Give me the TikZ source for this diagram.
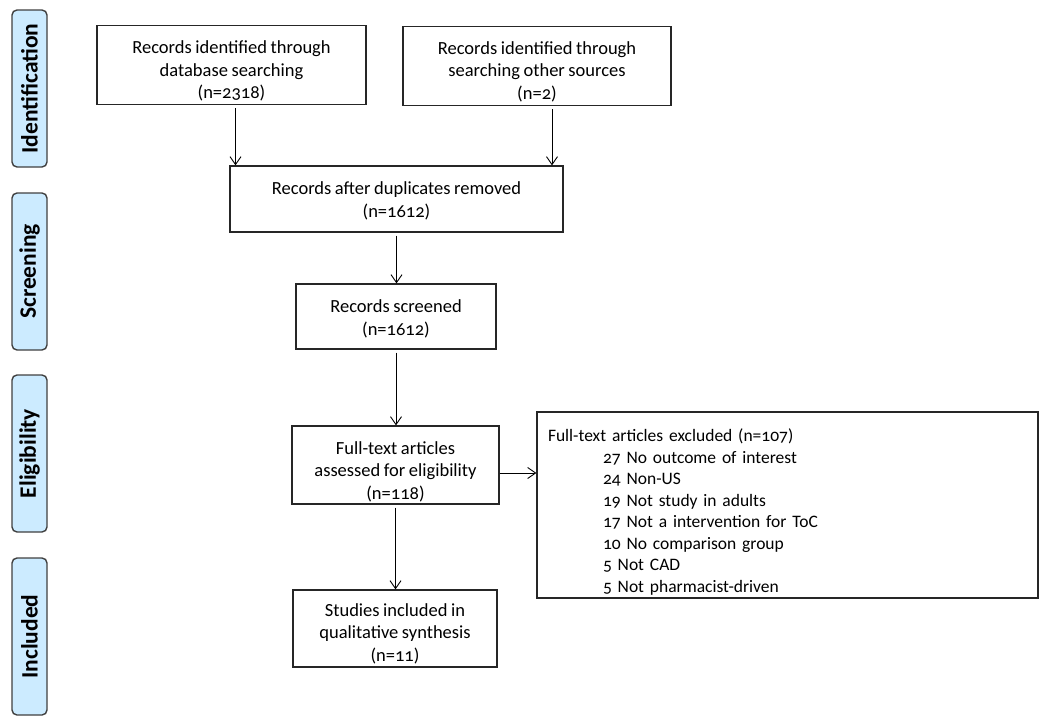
\documentclass[tikz,border=0pt]{standalone}
\usepackage{fontspec}
\setmainfont{Carlito}[Numbers=OldStyle, WordSpace=0.85]
\usetikzlibrary{arrows.meta}
\definecolor{sidefill}{HTML}{CCEBFF}
\definecolor{sideline}{HTML}{404040}
\begin{document}
\begin{tikzpicture}[x=1pt,y=-1pt,
  box/.style={draw=black!85, line width=1.2pt, inner sep=0pt, align=center,
    font=\fontsize{18.5}{22.5}\selectfont},
  side/.style={draw=sideline, fill=sidefill, line width=1.4pt, rounded corners=5pt,
    rotate=90, minimum width=157pt, minimum height=35pt, inner sep=0pt,
    font=\fontsize{23.5}{24}\selectfont\bfseries},
  arr/.style={-{Straight Barb[length=8pt,width=11pt]}, line width=0.9pt, shorten <=3pt}
]
\useasboundingbox (0,0) rectangle (1050,726);

% phase labels
\node[side] (sid) at (29.5,88.5) {Identification};
\node[side] (ssc) at (29.5,271.5) {Screening};
\node[side] (sel) at (29.5,453.5) {Eligibility};
\node[side] (sin) at (29.5,636.5) {Included};

% boxes
\node[box, minimum width=269pt, minimum height=79pt] (b1) at (231.5,65)
  {\rule{0pt}{25pt}Records identified through\\database searching\\(n=2318)};
\node[box, minimum width=268pt, minimum height=79pt] (b2) at (537,66)
  {\rule{0pt}{24pt}Records identified through\\searching other sources\\(n=2)};
\node[box, minimum width=333pt, minimum height=66pt] (b3) at (396.5,199)
  {\rule{0pt}{17pt}Records after duplicates removed\\(n=1612)};
\node[box, minimum width=200pt, minimum height=65pt] (b4) at (396,316.5)
  {\rule{0pt}{18pt}Records screened\\(n=1612)};
\node[box, minimum width=207pt, minimum height=78pt] (b5) at (395.5,465)
  {\rule{0pt}{26pt}Full-text articles\\assessed for eligibility\\(n=118)};
\node[box, minimum width=501pt, minimum height=186pt, text width=479pt, inner xsep=11pt,
  align=left, font=\fontsize{17.5}{21.5}\selectfont] (b6) at (787.5,505)
  {\rule{0pt}{27pt}Full-text articles excluded (n=107)\\
   \hspace*{55pt}27 No outcome of interest\\
   \hspace*{55pt}24 Non-US\\
   \hspace*{55pt}19 Not study in adults\\
   \hspace*{55pt}17 Not a intervention for ToC\\
   \hspace*{55pt}10 No comparison group\\
   \hspace*{55pt}5 Not CAD\\
   \hspace*{55pt}5 Not pharmacist-driven};
\node[box, minimum width=204pt, minimum height=77pt] (b7) at (395,628.5)
  {\rule{0pt}{23pt}Studies included in\\qualitative synthesis\\(n=11)};

% connectors
\draw[arr] ([xshift=4pt]b1.south) -- ([xshift=4pt]b1.south |- b3.north);
\draw[arr] ([xshift=15pt]b2.south) -- ([xshift=15pt]b2.south |- b3.north);
\draw[arr] (b3.south) -- (b3.south |- b4.north);
\draw[arr] (b4.south) -- (b4.south |- b5.north);
\draw[arr, shorten <=0pt] ([yshift=-8pt]b5.east) -- ([yshift=-8pt]b5.east -| b6.west);
\draw[arr] (b5.south) -- (b5.south |- b7.north);
\end{tikzpicture}
\end{document}
